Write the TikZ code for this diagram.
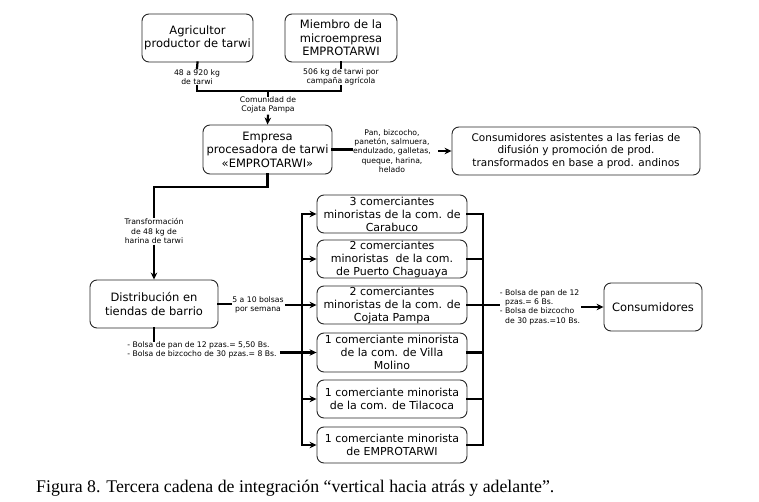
\documentclass[tikz,border=0pt]{standalone}
\usepackage{fontspec}
\setmainfont{DejaVu Sans}
\newfontfamily\capfont{Liberation Serif}
\usetikzlibrary{arrows.meta}
\begin{document}
\begin{tikzpicture}[x=1pt,y=-1pt,
 box/.style={draw=black!85,line width=0.9pt,rounded corners=7pt,align=center,inner sep=1pt,font=\fontsize{11.5}{13.5}\selectfont},
 cbox/.style={box,minimum width=150pt,inner sep=0pt,font=\fontsize{11}{13}\selectfont},
 lbl/.style={align=center,inner sep=1pt,font=\fontsize{7.7}{9.3}\selectfont},
 conn/.style={line width=2.2pt,line cap=rect},
 arr/.style={line width=2.2pt,-{Stealth[length=7pt,width=6.5pt]}},
]
\useasboundingbox (0,0) rectangle (759,502);
\node[box,minimum width=111pt,minimum height=48pt] (agri) at (197.5,38) {Agricultor\\productor de tarwi};
\node[box,minimum width=112pt,minimum height=48pt] (miem) at (341,38) {Miembro de la\\microempresa\\EMPROTARWI};
\node[lbl] (lA) at (197,77) {48 a 920 kg\\de tarwi};
\node[lbl] (lM) at (341,77) {506 kg de tarwi por\\campaña agrícola};
\coordinate (bA) at (197,91);
\coordinate (bM) at (341,91);
\coordinate (bC) at (268,91);
\node[lbl] (lC) at (268,105) {Comunidad de\\Cojata Pampa};
\node[box,minimum width=129pt,minimum height=49pt] (emp) at (267.5,149.5) {Empresa\\procesadora de tarwi\\«EMPROTARWI»};
\node[lbl] (lP) at (392,151) {Pan, bizcocho,\\panetón, salmuera,\\endulzado, galletas,\\queque, harina,\\helado};
\node[box,minimum width=248pt,minimum height=48pt,font=\fontsize{10.5}{12.5}\selectfont] (cons1) at (576,151) {Consumidores asistentes a las ferias de\\difusión y promoción de prod.\\transformados en base a prod. andinos};
\coordinate (eA) at (268,187);
\coordinate (eB) at (154,187);
\node[lbl] (lT) at (154,231) {Transformación\\de 48 kg de\\harina de tarwi};
\node[box,minimum width=128pt,minimum height=48pt] (dist) at (154,304) {Distribución en\\tiendas de barrio};
\node[lbl] (l5) at (258,305) {5 a 10 bolsas\\por semana};
\node[cbox,minimum height=38pt] (c1) at (392,214) {3 comerciantes\\minoristas de la com. de\\Carabuco};
\node[cbox,minimum height=38pt] (c2) at (392,259) {2 comerciantes\\minoristas\ \ de la com.\\de Puerto Chaguaya};
\node[cbox,minimum height=38pt] (c3) at (392,305) {2 comerciantes\\minoristas de la com. de\\Cojata Pampa};
\node[cbox,minimum height=39pt] (c4) at (392,352.5) {1 comerciante minorista\\de la com. de Villa\\Molino};
\node[cbox,minimum height=38pt] (c5) at (392,399) {1 comerciante minorista\\de la com. de Tilacoca};
\node[cbox,minimum height=36pt] (c6) at (392,445) {1 comerciante minorista\\de EMPROTARWI};
\node[lbl,align=left] (lL) at (202,350) {- Bolsa de pan de 12 pzas.= 5,50 Bs.\\- Bolsa de bizcocho de 30 pzas.= 8 Bs.};
\node[lbl,align=left] (lR) at (540,307) {- Bolsa de pan de 12\\\phantom{- }pzas.= 6 Bs.\\- Bolsa de bizcocho\\\phantom{- }de 30 pzas.=10 Bs.};
\node[box,minimum width=98pt,minimum height=48pt] (cons2) at (653,307) {Consumidores};
\node[anchor=west,font=\capfont\fontsize{17.8}{20}\selectfont,inner sep=0pt] (cap) at (36,488) {Figura 8. Tercera cadena de integración “vertical hacia atrás y adelante”.};
\coordinate (busL) at (302,0);
\coordinate (busR) at (483,0);
% top
\draw[conn] (agri.south) -- (lA.north);
\draw[conn] (lA.south) -- (bA) -- (bM) -- (lM.south);
\draw[conn] (miem.south) -- (lM.north);
\draw[conn] (bC) -- (lC.north);
\draw[arr] (lC.south) -- (emp.north);
\draw[conn] (emp.east) -- (emp.east -| lP.west);
\draw[arr] ([xshift=6pt]lP.east |- cons1.west) -- (cons1.west);
\draw[conn] (emp.south) -- (emp.south |- eA) -- (eB) -- (lT.north);
\draw[arr] (lT.south) -- (dist.north);
\draw[conn] (dist.east) -- (l5.west |- dist.east);
\draw[arr] (l5.east |- c3.west) -- (c3.west);
\draw[conn] (dist.south) -- (dist.south |- lL.north);
\draw[arr] ([xshift=2pt]lL.east |- c4.west) -- (c4.west);
% left bus
\draw[conn] (c1.west -| busL) -- (c6.west -| busL);
\foreach \i in {1,2,5,6} \draw[arr] (c\i.west -| busL) -- (c\i.west);
% right bus
\foreach \i in {1,...,6} \draw[conn] (c\i.east) -- (c\i.east -| busR);
\draw[conn] (c1.east -| busR) -- (c6.east -| busR);
\draw[conn] (c3.east -| busR) -- (lR.west |- c3.east);
\draw[arr] (lR.east |- cons2.west) -- (cons2.west);
\end{tikzpicture}
\end{document}
